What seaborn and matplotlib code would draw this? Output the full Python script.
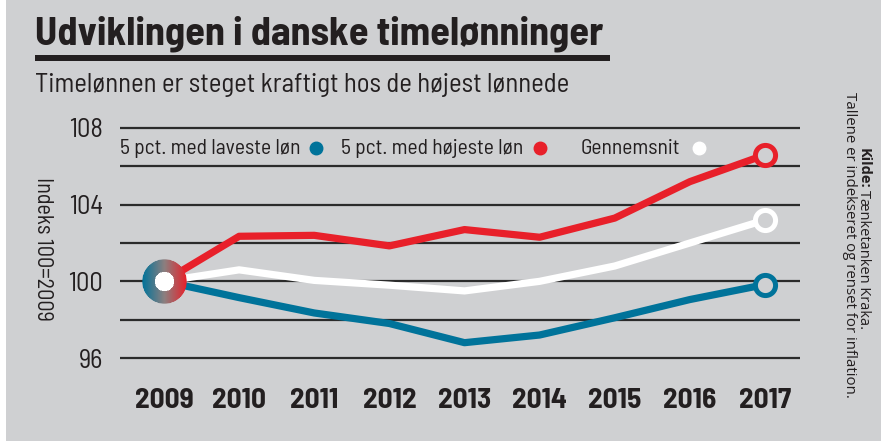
import numpy as np
import pandas as pd
import matplotlib
matplotlib.use("Agg")
import matplotlib.pyplot as plt
import seaborn as sns
from matplotlib.offsetbox import OffsetImage, AnnotationBbox
from matplotlib.patches import Rectangle

years = [2009, 2010, 2011, 2012, 2013, 2014, 2015, 2016, 2017]
lowest = [100, 99.15, 98.35, 97.8, 96.8, 97.2, 98.1, 99.05, 99.83]
highest = [100, 102.35, 102.4, 101.85, 102.7, 102.3, 103.3, 105.2, 106.6]
average = [100, 100.6, 100.05, 99.8, 99.5, 100.0, 100.8, 102.0, 103.2]
series_names = ["5 pct. med laveste løn", "5 pct. med højeste løn", "Gennemsnit"]
y_ticks = [96, 100, 104, 108]
y_grid = [96, 98, 100, 102, 104, 106, 108]

BG = "#cfd0d2"
BLUE = "#00739a"
RED = "#e8202a"
WHITE = "#ffffff"
INK = "#231f20"
colors = dict(zip(series_names, [BLUE, RED, WHITE]))

df = pd.concat([
    pd.DataFrame({"år": years, "indeks": vals, "gruppe": name})
    for name, vals in zip(series_names, [lowest, highest, average])
])

sns.set_theme(style="white")
COND = ["Barlow Semi Condensed", "Barlow Condensed", "DejaVu Sans"]
SANS = ["Open Sans", "DejaVu Sans"]
plt.rcParams["font.family"] = COND

W, H = 881, 441
fig = plt.figure(figsize=(W / 100, H / 100), dpi=100, facecolor=BG)
fig.add_artist(Rectangle((0, 0), 6 / W, 1, transform=fig.transFigure, color="white", lw=0))

def px(x, y):
    return x / W, 1 - y / H

# axes placement
ax = fig.add_axes([120 / W, 1 - 367.6 / H, 680 / W, (367.6 - 118.4) / H])
ax.set_facecolor(BG)
for s in ax.spines.values():
    s.set_visible(False)
ax.set_xlim(2008.414, 2017.466)
ax.set_ylim(95.5, 108.5)

for g in y_grid:
    ax.axhline(g, color="#2b2b2b", lw=1.6, zorder=1)

sns.lineplot(data=df[df.gruppe == series_names[0]], x="år", y="indeks", color=BLUE,
             lw=5.2, ax=ax, legend=False, zorder=3)
sns.lineplot(data=df[df.gruppe == series_names[2]], x="år", y="indeks", color=WHITE,
             lw=5.2, ax=ax, legend=False, zorder=4)
sns.lineplot(data=df[df.gruppe == series_names[1]], x="år", y="indeks", color=RED,
             lw=5.2, ax=ax, legend=False, zorder=5)

# open end markers
for name, vals in zip(series_names, [lowest, highest, average]):
    ax.plot(years[-1], vals[-1], "o", ms=14.5, mew=3.6, mec=colors[name], mfc=BG, zorder=6)

# gradient start marker
n = 80
yy, xx = np.mgrid[-1:1:n * 1j, -1:1:n * 1j]
r = np.hypot(xx, yy)
t = (xx + 1) / 2
c0 = np.array(matplotlib.colors.to_rgb(BLUE))
c1 = np.array(matplotlib.colors.to_rgb(RED))
c_mid = np.array([0.55, 0.50, 0.50])
grad = np.where(t[..., None] < 0.5,
                c0 + (c_mid - c0) * (t[..., None] / 0.5),
                c_mid + (c1 - c_mid) * ((t[..., None] - 0.5) / 0.5))
img = np.ones((n, n, 4))
img[..., :3] = grad
img[r < 0.44, :3] = 1.0
img[..., 3] = np.clip((1.0 - r) * n / 2 + 0.5, 0, 1)
ab = AnnotationBbox(OffsetImage(img, zoom=32 / n), (years[0], lowest[0]), frameon=False,
                    zorder=7)
ax.add_artist(ab)

ax.set_xticks(years)
ax.set_xticklabels([str(y) for y in years], fontsize=21, fontweight="bold", color=INK)
ax.set_yticks(y_ticks)
ax.set_yticklabels([str(v) for v in y_ticks], fontsize=19, color=INK)
ax.tick_params(axis="x", length=0, pad=15)
ax.tick_params(axis="y", length=0, pad=12)
ax.set_xlabel("")
ax.set_ylabel("")

# legend: text first, dot after
leg_y = 0.881
legend_items = [(0.0, 0.288, BLUE), (0.325, 0.618, RED), (0.678, 0.851, WHITE)]
for name, (tx, dx, col) in zip(series_names, legend_items):
    ax.text(tx, leg_y, name, transform=ax.transAxes, fontsize=15.5, color=INK,
            va="center", ha="left", zorder=8)
    ax.plot(dx, leg_y, "o", ms=9, color=col, transform=ax.transAxes, clip_on=False, zorder=8)

# titles
fig.text(*px(35, 45), "Udviklingen i danske timelønninger", fontsize=29, fontweight="bold",
         color=INK, ha="left", va="baseline")
fig.add_artist(Rectangle(px(35, 60.5), 575 / W, 5.5 / H, transform=fig.transFigure,
                         color=INK, lw=0))
fig.text(*px(35, 92), "Timelønnen er steget kraftigt hos de højest lønnede", fontsize=19.3,
         color=INK, ha="left", va="baseline")
fig.text(*px(42, 249), "Indeks 100=2009", fontsize=16, color=INK, rotation=270,
         ha="center", va="center")

# source note, reading top to bottom
fig.text(*px(864, 148), "Kilde:", fontsize=10.5, fontweight="bold", color=INK,
         rotation=270, ha="center", va="top", family=SANS)
fig.text(*px(864, 190), "Tænketanken Kraka.", fontsize=10.5, color=INK,
         rotation=270, ha="center", va="top", family=SANS)
fig.text(*px(849, 92), "Tallene er indekseret og renset for inflation.", fontsize=10.8,
         color=INK, rotation=270, ha="center", va="top", family=SANS)

fig.savefig("out.png", dpi=100, facecolor=BG)
